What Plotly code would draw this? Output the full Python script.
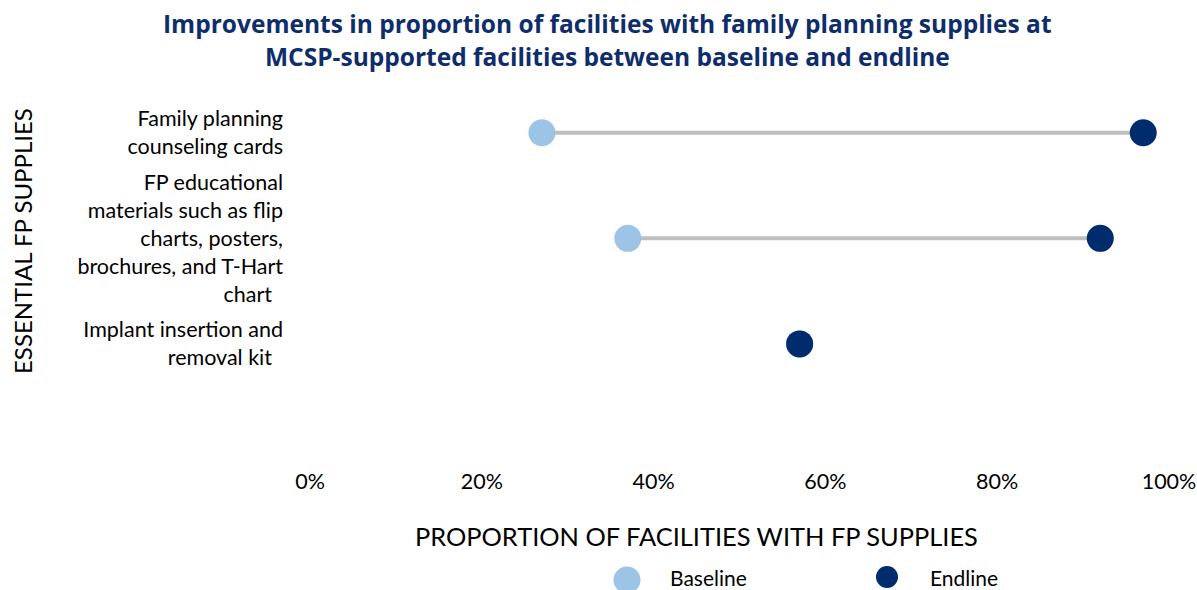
import plotly.graph_objects as go

# ---- data ----
categories = [
    "Family planning<br>counseling cards",
    "FP educational<br>materials such as flip<br>charts, posters,<br>brochures, and T-Hart<br>chart\u00a0\u00a0",
    "Implant insertion and<br>removal kit\u00a0\u00a0",
]
baseline = [27, 37, 57]
endline = [97, 92, 57]
x_tick_values = [0, 20, 40, 60, 80, 100]
x_tick_labels = ["0%", "20%", "40%", "60%", "80%", "100%"]
series_names = ["Baseline", "Endline"]

title_lines = [
    "Improvements in proportion of facilities with family planning supplies at",
    "MCSP-supported facilities between baseline and endline",
]
y_title = "ESSENTIAL FP SUPPLIES"
x_title = "PROPORTION OF FACILITIES WITH FP SUPPLIES"

# ---- style ----
W, H = 1197, 590
L, R, T, B = 310, 28, 80, 130
PW, PH = W - L - R, H - T - B
FONT = "Lato"
C_BASE = "#9DC3E6"
C_END = "#002B6D"
C_LINE = "#BFBFBF"
C_TITLE = "#0E2D6B"


def px(xp):
    return (xp - L) / PW


def py(yp):
    return (H - B - yp) / PH


fig = go.Figure()

# connecting lines
lx, ly = [], []
for c, b, e in zip(categories, baseline, endline):
    lx += [b, e, None]
    ly += [c, c, None]
fig.add_trace(go.Scatter(x=lx, y=ly, mode="lines",
                         line=dict(color=C_LINE, width=4),
                         showlegend=False, hoverinfo="skip"))

fig.add_trace(go.Scatter(x=baseline, y=categories, mode="markers",
                         name=series_names[0],
                         marker=dict(color=C_BASE, size=27),
                         showlegend=False))
fig.add_trace(go.Scatter(x=endline, y=categories, mode="markers",
                         name=series_names[1],
                         marker=dict(color=C_END, size=27),
                         showlegend=False))

fig.update_layout(
    width=W, height=H,
    margin=dict(l=L, r=R, t=T, b=B, autoexpand=False),
    paper_bgcolor="white", plot_bgcolor="white",
    font=dict(family=FONT, color="#000000", size=21),
    showlegend=False,
)
fig.update_xaxes(
    range=[0, 100], tickvals=x_tick_values, ticktext=x_tick_labels,
    showgrid=False, zeroline=False, showline=False, automargin=False,
    tickfont=dict(size=21.5), ticks="", ticklabelstandoff=6,
)
fig.update_yaxes(
    categoryorder="array", categoryarray=categories,
    range=[3.1, -0.5], automargin=False,
    showgrid=False, zeroline=False, showline=False,
    tickfont=dict(size=21.5), ticks="", ticklabelstandoff=26,
)

ann = []
for i, (line, yc) in enumerate(zip(title_lines, [23, 56])):
    ann.append(dict(text="<b>%s</b>" % line, x=px(607), y=py(yc),
                    xref="paper", yref="paper", showarrow=False,
                    font=dict(size=24.5, color=C_TITLE, family="Open Sans"),
                    xanchor="center", yanchor="middle"))
ann.append(dict(text=y_title, x=px(22), y=py(241), textangle=-90,
                xref="paper", yref="paper", showarrow=False,
                font=dict(size=24), xanchor="center", yanchor="middle"))
ann.append(dict(text=x_title, x=px(696), y=py(536),
                xref="paper", yref="paper", showarrow=False,
                font=dict(size=25.4), xanchor="center", yanchor="middle"))
# legend
ann.append(dict(text=series_names[0], x=px(668), y=py(577),
                xref="paper", yref="paper", showarrow=False,
                font=dict(size=21), xanchor="left", yanchor="middle"))
ann.append(dict(text=series_names[1], x=px(928), y=py(577),
                xref="paper", yref="paper", showarrow=False,
                font=dict(size=21), xanchor="left", yanchor="middle"))
fig.update_layout(annotations=ann)

shapes = []
for xc, yc, d, col in [(627, 580, 27, C_BASE), (887, 577, 22, C_END)]:
    shapes.append(dict(type="circle", xref="paper", yref="paper",
                       xsizemode="pixel", ysizemode="pixel",
                       xanchor=px(xc), yanchor=py(yc),
                       x0=-d / 2, x1=d / 2, y0=-d / 2, y1=d / 2,
                       fillcolor=col, line=dict(width=0)))
fig.update_layout(shapes=shapes)

fig.write_html("out.html", config={"displayModeBar": False},
               post_script="document.body.style.margin='0';document.body.style.overflow='hidden';")
